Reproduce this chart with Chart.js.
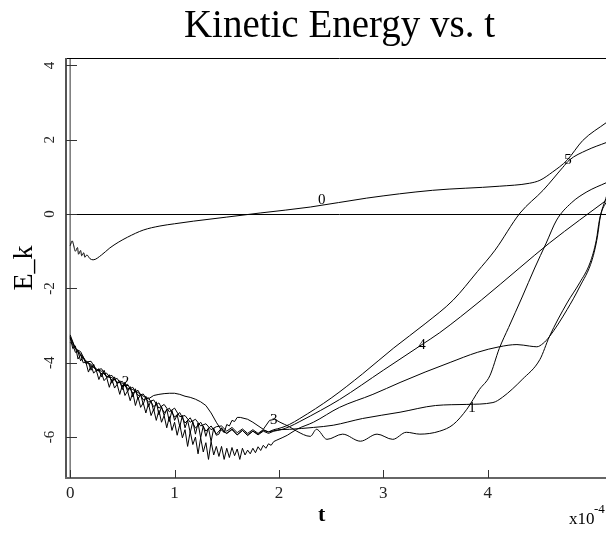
<!DOCTYPE html>
<html>
<head>
<meta charset="utf-8">
<script src="https://cdn.jsdelivr.net/npm/chart.js@4.4.1/dist/chart.umd.min.js"></script>
<style>
  html, body { margin: 0; padding: 0; background: #fff; overflow: hidden; }
  #wrap { width: 606px; height: 539px; overflow: hidden; }
</style>
</head>
<body>
<div id="wrap"><canvas id="keChart" width="630" height="539"></canvas></div>
<script>
const chartTitle = 'Kinetic Energy vs. t';
const xTicks = [0, 1, 2, 3, 4];
const yTicks = [4, 2, 0, -2, -4, -6];

// curve 0
const t0 = [0, 0.02, 0.03, 0.05, 0.07, 0.08, 0.1, 0.11, 0.13, 0.14, 0.16, 0.19, 0.22, 0.3, 0.38, 0.46, 0.55, 0.7, 0.86, 1.0,
            1.18, 1.5, 1.82, 2.3, 2.84, 3.47, 4.11, 4.4, 4.5, 4.62, 4.76, 4.91, 5.14];
const e0 = [-0.85, -0.72, -0.8, -1.0, -0.9, -1.08, -0.98, -1.12, -1.04, -1.16, -1.1, -1.2, -1.23, -1.1, -0.91, -0.76, -0.62, -0.43, -0.32, -0.26,
            -0.19, -0.08, 0.03, 0.19, 0.43, 0.64, 0.75, 0.83, 0.91, 1.13, 1.45, 1.98, 2.47];

// noisy start of curves 1 and 3 (fine steps)
const tFine = [0, 0.025, 0.05, 0.075, 0.1, 0.125, 0.15, 0.175, 0.2, 0.225, 0.25, 0.275, 0.3, 0.325, 0.35, 0.375, 0.4, 0.425, 0.45, 0.475,
               0.5, 0.525, 0.55, 0.575, 0.6, 0.625, 0.65, 0.675, 0.7, 0.725, 0.75, 0.775, 0.8, 0.825, 0.85, 0.875, 0.9, 0.925, 0.95, 0.975,
               1.0, 1.025, 1.05, 1.075, 1.1, 1.125, 1.15, 1.175, 1.2, 1.225, 1.25, 1.275, 1.3, 1.325, 1.35, 1.375, 1.4];
const e1Early = [-3.45, -3.52, -3.72, -3.7, -3.95, -3.84, -4.02, -4.0, -4.2, -4.04, -4.22, -4.16, -4.38, -4.2, -4.4, -4.32, -4.55, -4.38, -4.58, -4.48,
                 -4.72, -4.52, -4.78, -4.64, -4.92, -4.7, -4.98, -4.85, -5.12, -4.9, -5.18, -5.02, -5.3, -5.05, -5.4, -5.18, -5.42, -5.25, -5.58, -5.28,
                 -5.55, -5.4, -5.72, -5.42, -5.75, -5.55, -5.88, -5.58, -5.92, -5.62, -6.02, -5.7, -5.98, -5.75, -6.12, -5.76, -5.95];
const e3Early = [-3.3, -3.62, -3.55, -3.9, -3.78, -4.0, -3.98, -4.25, -4.08, -4.28, -4.2, -4.45, -4.28, -4.48, -4.4, -4.66, -4.44, -4.68, -4.58, -4.85,
                 -4.6, -4.88, -4.76, -5.02, -4.8, -5.15, -4.92, -5.2, -5.08, -5.35, -5.1, -5.42, -5.25, -5.55, -5.28, -5.6, -5.42, -5.75, -5.45, -5.82,
                 -5.6, -5.95, -5.66, -6.02, -5.8, -6.25, -5.85, -6.2, -6.0, -6.45, -6.02, -6.4, -6.15, -6.6, -6.12, -6.48, -6.25];

// noisy start of curves 2, 4 and 5
const tEarly = [0, 0.05, 0.1, 0.15, 0.2, 0.25, 0.3, 0.35, 0.4, 0.45, 0.5, 0.55, 0.6, 0.65, 0.7, 0.75, 0.8, 0.85, 0.9, 0.95,
                1.0, 1.05, 1.1, 1.15, 1.2, 1.25, 1.3, 1.35, 1.4];
const e2Early = [-3.3, -3.62, -3.76, -3.98, -4.04, -4.2, -4.22, -4.38, -4.4, -4.52, -4.55, -4.68, -4.72, -4.8, -4.9, -4.97, -4.88, -4.85, -4.83, -4.82,
                 -4.82, -4.85, -4.9, -4.93, -4.98, -5.05, -5.15, -5.35, -5.6];
const e4Early = [-3.35, -3.6, -3.8, -3.94, -4.08, -4.16, -4.3, -4.28, -4.48, -4.42, -4.64, -4.58, -4.82, -4.74, -5.0, -4.94, -5.18, -5.08, -5.34, -5.22,
                 -5.46, -5.34, -5.62, -5.48, -5.76, -5.6, -5.84, -5.7, -5.92];
const e5Early = [-3.25, -3.62, -3.7, -3.98, -3.96, -4.2, -4.16, -4.38, -4.34, -4.54, -4.5, -4.72, -4.66, -4.88, -4.84, -5.06, -5.0, -5.22, -5.12, -5.32,
                 -5.22, -5.45, -5.42, -5.6, -5.52, -5.7, -5.64, -5.8, -5.72];

// rest of each curve
const t1Late = [1.425, 1.45, 1.475, 1.5, 1.525, 1.55, 1.575, 1.6, 1.63, 1.7, 1.75, 1.85, 1.91, 1.96, 2.01, 2.1, 2.17, 2.3, 2.36, 2.46,
                2.61, 2.78, 2.94, 3.09, 3.22, 3.35, 3.54, 3.67, 3.8, 3.92, 4.02, 4.11, 4.2, 4.33, 4.45, 4.56, 4.66, 4.8, 4.95, 5.14];
const e1Late = [-5.92, -5.75, -5.88, -5.66, -5.7, -5.55, -5.58, -5.47, -5.47, -5.52, -5.6, -5.79, -5.55, -5.52, -5.6, -5.72, -5.84, -5.98, -5.79, -6.06,
                -5.92, -6.11, -5.92, -6.06, -5.87, -5.92, -5.84, -5.66, -5.25, -4.72, -4.35, -3.62, -3.05, -2.23, -1.45, -0.78, -0.16, 0.3, 0.6, 0.85];
const t2Late = [1.45, 1.5, 1.55, 1.6, 1.65, 1.7, 1.75, 1.8, 1.85, 1.9, 2.0, 2.1, 2.33, 2.52, 2.8, 3.16, 3.5, 3.8, 4.05, 4.14,
                4.33, 4.5, 4.59, 4.76, 4.88, 4.98, 5.04, 5.07, 5.14];
const e2Late = [-5.82, -5.9, -5.8, -5.94, -5.82, -5.94, -5.84, -5.92, -5.82, -5.86, -5.8, -5.79, -5.74, -5.68, -5.5, -5.33, -5.15, -5.12, -5.07, -4.93,
                -4.45, -3.91, -3.3, -2.39, -1.85, -1.31, -0.7, -0.16, 0.5];
const t3Late = [1.425, 1.45, 1.475, 1.5, 1.525, 1.55, 1.575, 1.6, 1.625, 1.65, 1.675, 1.7, 1.725, 1.75, 1.775, 1.8, 1.825, 1.85, 1.875, 1.9,
                1.925, 1.95, 1.98, 2.08, 2.17, 2.33, 2.58, 2.9, 3.16, 3.4, 3.64, 3.9, 4.11, 4.28, 4.4, 4.47, 4.53, 4.59, 4.76, 4.88,
                5.0, 5.05, 5.08, 5.14];
const e3Late = [-6.52, -6.25, -6.6, -6.3, -6.55, -6.28, -6.5, -6.32, -6.6, -6.3, -6.48, -6.35, -6.45, -6.3, -6.42, -6.26, -6.36, -6.22, -6.3, -6.18,
                -6.22, -6.12, -6.08, -5.95, -5.79, -5.6, -5.2, -4.85, -4.53, -4.25, -3.99, -3.72, -3.57, -3.51, -3.55, -3.57, -3.48, -3.3, -2.57, -1.96,
                -1.23, -0.62, -0.05, 0.35];
const t4Late = [1.45, 1.5, 1.55, 1.6, 1.65, 1.7, 1.75, 1.8, 1.85, 1.9, 1.95, 2.02, 2.1, 2.2, 2.4, 2.58, 3.0, 3.37, 3.54, 3.94,
                4.3, 4.59, 4.88, 5.14];
const e4Late = [-5.76, -5.9, -5.78, -5.94, -5.82, -5.96, -5.84, -5.94, -5.84, -5.9, -5.84, -5.8, -5.72, -5.58, -5.28, -4.99, -4.2, -3.51, -3.19, -2.31,
                -1.46, -0.78, -0.16, 0.38];
const t5Late = [1.45, 1.5, 1.55, 1.6, 1.65, 1.7, 1.75, 1.8, 1.85, 1.9, 1.95, 2.02, 2.1, 2.2, 2.5, 2.8, 3.1, 3.4, 3.67, 3.9,
                4.07, 4.31, 4.53, 4.72, 4.78, 4.95, 5.14];
const e5Late = [-5.7, -5.84, -5.74, -5.88, -5.78, -5.9, -5.8, -5.9, -5.8, -5.86, -5.8, -5.75, -5.66, -5.5, -4.95, -4.3, -3.6, -2.95, -2.31, -1.55,
                -0.97, 0.03, 0.64, 1.26, 1.45, 1.72, 1.93];

// curve number labels, placed in data units
const curveNames = ['0', '1', '2', '3', '4', '5'];
const labelT = [2.41, 3.85, 0.53, 1.95, 3.37, 4.77];
const labelE = [0.38, -5.22, -4.52, -5.54, -3.52, 1.45];

// noisy part (straight segments) ends here, the rest is drawn smooth
const noiseEnd = 2.0;

const toPoints = (ts, es) => ts.map((t, i) => ({ x: t, y: es[i] }));

const curves = [
    toPoints(t0, e0),
    toPoints(tFine.concat(t1Late), e1Early.concat(e1Late)),
    toPoints(tEarly.concat(t2Late), e2Early.concat(e2Late)),
    toPoints(tFine.concat(t3Late), e3Early.concat(e3Late)),
    toPoints(tEarly.concat(t4Late), e4Early.concat(e4Late)),
    toPoints(tEarly.concat(t5Late), e5Early.concat(e5Late))
];

const datasets = [];
curves.forEach((pts, i) => {
    const base = { label: curveNames[i], borderColor: '#000', borderWidth: 1, pointRadius: 0, fill: false };
    if (i === 0) {
        datasets.push({ ...base, data: pts, cubicInterpolationMode: 'monotone' });
        return;
    }
    const noisy = pts.filter(p => p.x <= noiseEnd);
    const last = noisy[noisy.length - 1].x;
    datasets.push({ ...base, data: noisy, tension: 0 });
    datasets.push({ ...base, data: pts.filter(p => p.x >= last), cubicInterpolationMode: 'monotone' });
});

const serif = '"Liberation Serif", "DejaVu Serif", serif';

const line = (ctx, x1, y1, x2, y2) => {
    ctx.beginPath();
    ctx.moveTo(x1, y1);
    ctx.lineTo(x2, y2);
    ctx.stroke();
};

const framePlugin = {
    id: 'frame',
    beforeDatasetsDraw(chart) {
        const { ctx, chartArea: a, scales: { x, y } } = chart;
        ctx.save();
        // zero lines
        ctx.strokeStyle = '#000';
        ctx.lineWidth = 1;
        const y0 = Math.round(y.getPixelForValue(0)) + 0.5;
        line(ctx, a.left, y0, a.right, y0);
        ctx.strokeStyle = '#777';
        ctx.lineWidth = 1.5;
        const x0 = x.getPixelForValue(0);
        line(ctx, x0, a.top, x0, a.bottom);

        // box
        ctx.strokeStyle = '#000';
        ctx.lineWidth = 1;
        line(ctx, a.left, a.top + 0.5, a.right, a.top + 0.5);
        ctx.strokeStyle = '#555';
        ctx.lineWidth = 2;
        line(ctx, a.left, a.top, a.left, a.bottom + 1);
        ctx.strokeStyle = '#666';
        line(ctx, a.left - 1, a.bottom, a.right, a.bottom);

        // inward ticks
        ctx.strokeStyle = '#333';
        ctx.lineWidth = 1;
        yTicks.forEach(v => {
            const py = Math.round(y.getPixelForValue(v)) + 0.5;
            line(ctx, a.left, py, a.left + 11, py);
        });
        xTicks.forEach(v => {
            const px = Math.round(x.getPixelForValue(v)) + 0.5;
            line(ctx, px, a.bottom, px, a.bottom - 8);
        });
        ctx.restore();
    },
    afterDraw(chart) {
        const { ctx, chartArea: a, scales: { x, y } } = chart;
        ctx.save();
        ctx.fillStyle = '#000';
        ctx.textAlign = 'center';
        ctx.textBaseline = 'alphabetic';

        ctx.font = '39px ' + serif;
        ctx.fillText(chartTitle, (a.left + a.right) / 2, 37);

        ctx.fillStyle = '#222';
        ctx.font = '17px ' + serif;
        xTicks.forEach(v => ctx.fillText(String(v), x.getPixelForValue(v), a.bottom + 20));

        ctx.font = '15px ' + serif;
        ctx.textBaseline = 'middle';
        yTicks.forEach(v => {
            ctx.save();
            ctx.translate(a.left - 16, y.getPixelForValue(v));
            ctx.rotate(-Math.PI / 2);
            ctx.fillText(String(v), 0, 0);
            ctx.restore();
        });

        ctx.fillStyle = '#000';
        ctx.save();
        ctx.font = '28px ' + serif;
        ctx.translate(25, (a.top + a.bottom) / 2);
        ctx.rotate(-Math.PI / 2);
        ctx.fillText('E_k', 0, 0);
        ctx.restore();

        ctx.textBaseline = 'alphabetic';
        ctx.font = 'bold 22px ' + serif;
        ctx.fillText('t', x.getPixelForValue(2.41), a.bottom + 43);

        ctx.textAlign = 'left';
        ctx.font = '17px ' + serif;
        ctx.fillText('x10', 569, a.bottom + 46);
        ctx.font = '13px ' + serif;
        ctx.fillText('-4', 594, a.bottom + 35);

        // curve numbers
        ctx.textAlign = 'center';
        ctx.textBaseline = 'middle';
        ctx.font = '15px ' + serif;
        curveNames.forEach((n, i) => {
            ctx.fillText(n, x.getPixelForValue(labelT[i]), y.getPixelForValue(labelE[i]));
        });
        ctx.restore();
    }
};

new Chart(document.getElementById('keChart').getContext('2d'), {
    type: 'line',
    data: { datasets },
    options: {
        responsive: false,
        animation: false,
        devicePixelRatio: 1,
        layout: { padding: { left: 66, top: 58, right: 17, bottom: 61 } },
        plugins: {
            legend: { display: false },
            tooltip: { enabled: false },
            title: { display: false }
        },
        scales: {
            x: { type: 'linear', min: -0.04, max: 5.2, display: false },
            y: { type: 'linear', min: -7.1, max: 4.2, display: false }
        }
    },
    plugins: [framePlugin]
});
</script>
</body>
</html>
